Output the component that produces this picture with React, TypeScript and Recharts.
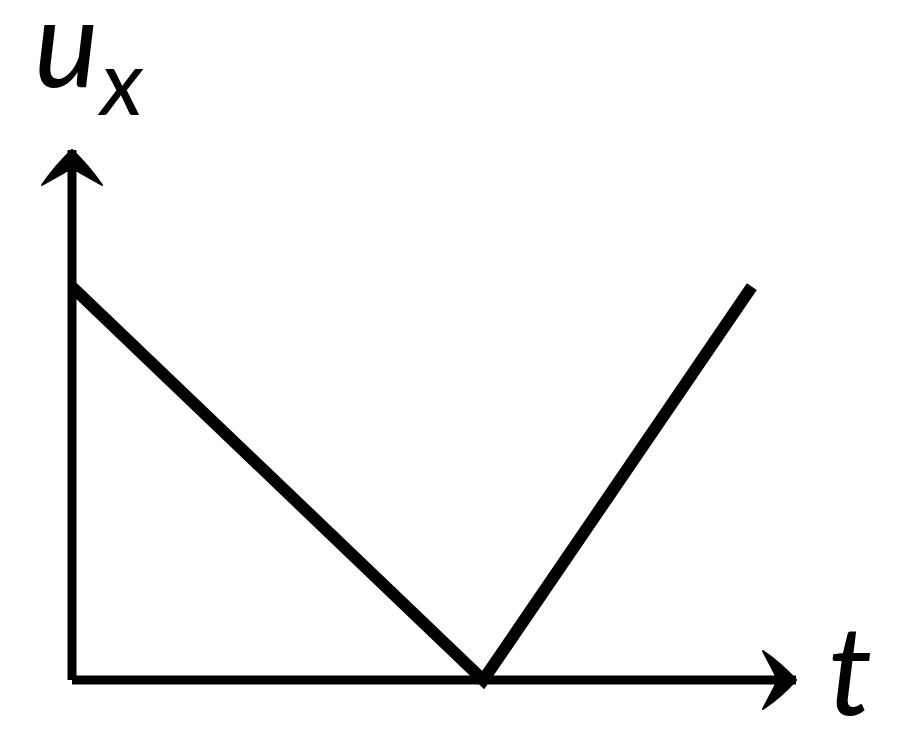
import React from 'react';
import {
  LineChart,
  Line,
  XAxis,
  YAxis,
  ReferenceDot,
  ReferenceLine,
} from 'recharts';

// ---------------------------------------------------------------------------
// Data
// ---------------------------------------------------------------------------

const T_VALUES = [0, 5.68, 9.39];
const UX_VALUES = [7.42, 0, 7.42];
const X_DOMAIN: [number, number] = [0, 10];
const Y_DOMAIN: [number, number] = [0, 10];
const X_LABEL = 't';
const Y_LABEL = 'u';
const Y_LABEL_SUB = 'x';

const data = T_VALUES.map((t, i) => ({ t, ux: UX_VALUES[i] }));

const FONT = 'Lato, "Open Sans", sans-serif';

// arrowheads drawn at the end of each axis (slightly curved wings)
const ArrowRight = (props: any) => {
  const { cx, cy } = props;
  return (
    <path
      d={`M ${cx} ${cy}
          Q ${cx - 14} ${cy - 16} ${cx - 33} ${cy - 29}
          Q ${cx - 24} ${cy - 12} ${cx - 18} ${cy}
          Q ${cx - 24} ${cy + 12} ${cx - 33} ${cy + 29}
          Q ${cx - 14} ${cy + 16} ${cx} ${cy} Z`}
      fill="#000"
      stroke="#000"
      strokeWidth={2}
      strokeLinejoin="round"
    />
  );
};

const ArrowUp = (props: any) => {
  const { cx, cy } = props;
  return (
    <path
      d={`M ${cx} ${cy}
          Q ${cx - 16} ${cy + 15} ${cx - 30} ${cy + 35}
          Q ${cx - 12} ${cy + 25} ${cx} ${cy + 18}
          Q ${cx + 12} ${cy + 25} ${cx + 30} ${cy + 35}
          Q ${cx + 16} ${cy + 15} ${cx} ${cy} Z`}
      fill="#000"
      stroke="#000"
      strokeWidth={2}
      strokeLinejoin="round"
    />
  );
};

const XLabel = (props: any) => {
  const { cx, cy } = props;
  return (
    <text x={cx + 32} y={cy + 35} fontFamily={FONT} fontStyle="italic" fontSize={125} fill="#000">
      {X_LABEL}
    </text>
  );
};

const YLabel = (props: any) => {
  const { cx, cy } = props;
  return (
    <text x={cx - 38} y={cy - 63} fontFamily={FONT} fontStyle="italic" fill="#000">
      <tspan fontSize={122}>{Y_LABEL}</tspan>
      <tspan fontSize={92} dx={2} dy={28}>
        {Y_LABEL_SUB}
      </tspan>
    </text>
  );
};

const App: React.FC = () => {
  return (
    <div style={{ position: 'absolute', left: 0, top: 0, width: 900, height: 743, background: '#fff' }}>
      <LineChart
        width={900}
        height={743}
        data={data}
        margin={{ top: 150, right: 104, bottom: 63, left: 72 }}
      >
        <XAxis dataKey="t" type="number" domain={X_DOMAIN} hide />
        <YAxis type="number" domain={Y_DOMAIN} hide />
        <ReferenceLine
          segment={[{ x: 0, y: 0 }, { x: X_DOMAIN[1], y: 0 }]}
          stroke="#000"
          strokeWidth={9}
          ifOverflow="visible"
        />
        <ReferenceLine
          segment={[{ x: 0, y: 0 }, { x: 0, y: Y_DOMAIN[1] }]}
          stroke="#000"
          strokeWidth={9}
          ifOverflow="visible"
        />
        <ReferenceDot x={X_DOMAIN[1]} y={0} ifOverflow="visible" shape={ArrowRight} />
        <ReferenceDot x={0} y={Y_DOMAIN[1]} ifOverflow="visible" shape={ArrowUp} />
        <ReferenceDot x={X_DOMAIN[1]} y={0} ifOverflow="visible" shape={XLabel} />
        <ReferenceDot x={0} y={Y_DOMAIN[1]} ifOverflow="visible" shape={YLabel} />
        <Line
          type="linear"
          dataKey="ux"
          stroke="#000"
          strokeWidth={12}
          dot={false}
          activeDot={false}
          isAnimationActive={false}
        />
      </LineChart>
    </div>
  );
};

export default App;
